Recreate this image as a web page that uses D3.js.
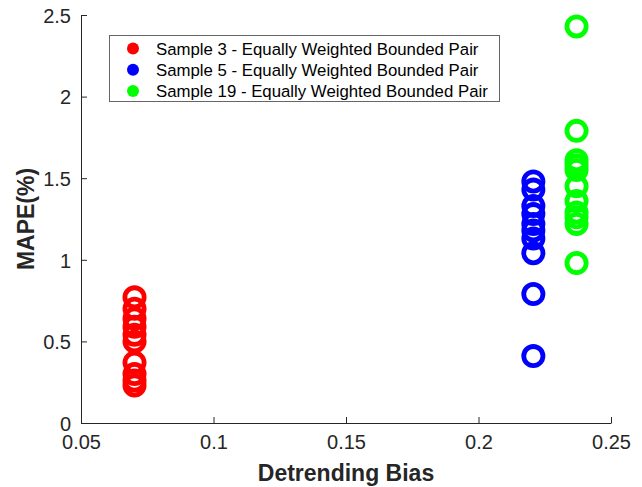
<!DOCTYPE html>
<html>
<head>
<meta charset="utf-8">
<script src="https://cdn.jsdelivr.net/npm/d3@7"></script>
<style>
  html, body { margin: 0; padding: 0; background: #fff; }
  svg { display: block; font-family: "Liberation Sans", Arial, sans-serif; }
</style>
</head>
<body>
<svg id="chart" width="642" height="487"></svg>
<script>
// Series labels, detrending bias per sample, and MAPE values per sample
const seriesNames = [
  "Sample 3 - Equally Weighted Bounded Pair",
  "Sample 5 - Equally Weighted Bounded Pair",
  "Sample 19 - Equally Weighted Bounded Pair"
];
const seriesColors = ["#ff0000", "#0000ff", "#00ff00"];
const biasValues = [0.0702, 0.2207, 0.2370];
const mapeSample3 = [0.77, 0.70, 0.64, 0.59, 0.54, 0.50, 0.37, 0.30, 0.26, 0.23];
const mapeSample5 = [1.48, 1.43, 1.33, 1.28, 1.22, 1.18, 1.13, 1.04, 0.79, 0.41];
const mapeSample19 = [2.43, 1.79, 1.61, 1.58, 1.55, 1.45, 1.36, 1.29, 1.26, 1.22, 0.98];
const xTicks = [0.05, 0.1, 0.15, 0.2, 0.25];
const yTicks = [0, 0.5, 1, 1.5, 2, 2.5];

const mapeBySeries = [mapeSample3, mapeSample5, mapeSample19];

const svg = d3.select("#chart");
const margin = { left: 81, right: 31, top: 15, bottom: 64 };
const W = 642, H = 487;
const axisColor = "#262626";

const x = d3.scaleLinear().domain([0.05, 0.25]).range([margin.left, W - margin.right]);
const y = d3.scaleLinear().domain([0, 2.5]).range([H - margin.bottom, margin.top]);

// Markers: open circles, one group per sample
const g = svg.append("g");
mapeBySeries.forEach((vals, i) => {
  g.append("g")
    .selectAll("circle")
    .data(vals)
    .join("circle")
    .attr("cx", x(biasValues[i]))
    .attr("cy", d => y(d))
    .attr("r", 9.6)
    .attr("fill", "none")
    .attr("stroke", seriesColors[i])
    .attr("stroke-width", 4.8);
});

// Axes (ticks point inward)
const xAxis = svg.append("g")
  .attr("transform", `translate(0,${y(0)})`)
  .call(d3.axisBottom(x).tickValues(xTicks).tickSizeInner(-6).tickSizeOuter(0)
    .tickPadding(12).tickFormat(d3.format("")));
const yAxis = svg.append("g")
  .attr("transform", `translate(${x(0.05)},0)`)
  .call(d3.axisLeft(y).tickValues(yTicks).tickSizeInner(-6).tickSizeOuter(0)
    .tickPadding(10).tickFormat(d3.format("")));

[xAxis, yAxis].forEach(a => {
  a.select(".domain").attr("stroke", axisColor).attr("stroke-width", 1);
  a.selectAll(".tick line").attr("stroke", axisColor).attr("stroke-width", 1);
  a.selectAll(".tick text")
    .attr("fill", axisColor)
    .style("font-size", "20px")
    .style("font-family", "'Liberation Sans', Arial, sans-serif");
});
yAxis.selectAll(".tick text").attr("dy", "0.36em");

// Axis titles
svg.append("text")
  .attr("x", (x(0.05) + x(0.25)) / 2)
  .attr("y", 481)
  .attr("text-anchor", "middle")
  .attr("fill", axisColor)
  .style("font-size", "23px")
  .style("font-weight", "bold")
  .text("Detrending Bias");

svg.append("text")
  .attr("transform", `translate(34,${(y(0) + y(2.5)) / 2}) rotate(-90)`)
  .attr("text-anchor", "middle")
  .attr("fill", axisColor)
  .style("font-size", "23px")
  .style("font-weight", "bold")
  .text("MAPE(%)");

// Legend
const legend = svg.append("g").attr("transform", "translate(109.5,35.5)");
legend.append("rect")
  .attr("width", 390).attr("height", 66)
  .attr("fill", "#fff").attr("stroke", "#666").attr("stroke-width", 1);
seriesNames.forEach((name, i) => {
  const row = legend.append("g").attr("transform", `translate(0,${13 + i * 21.2})`);
  row.append("circle").attr("cx", 23.5).attr("cy", 0).attr("r", 6).attr("fill", seriesColors[i]);
  row.append("text").attr("x", 46.5).attr("y", 0).attr("dy", "0.36em")
    .attr("fill", "#000").style("font-size", "16.8px").text(name);
});
</script>
</body>
</html>
